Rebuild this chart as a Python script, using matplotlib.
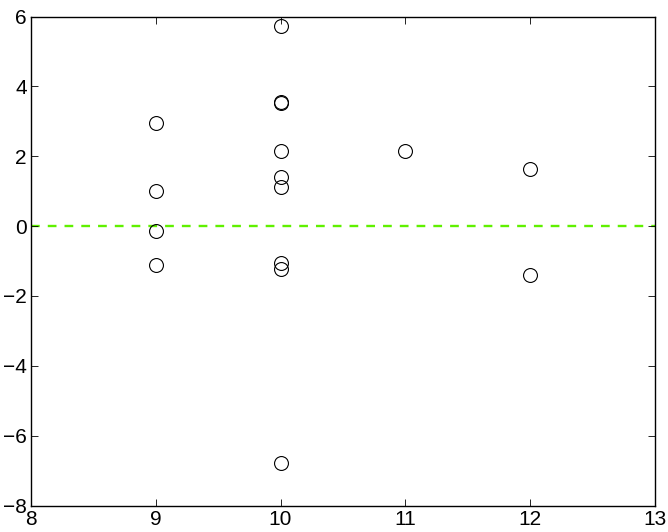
import matplotlib
matplotlib.use("Agg")
import matplotlib.pyplot as plt

plt.rcParams['font.family'] = ['Liberation Sans', 'DejaVu Sans']

# residuals grouped by x value
x_vals = [9, 9, 9, 9,
          10, 10, 10, 10, 10, 10, 10, 10, 10,
          11,
          12, 12]
y_vals = [2.96, 1.02, -0.13, -1.12,
          5.73, 3.56, 3.54, 2.15, 1.41, 1.11, -1.05, -1.24, -6.78,
          2.16,
          1.63, -1.40]

xticks = [8, 9, 10, 11, 12, 13]
yticks = [-8, -6, -4, -2, 0, 2, 4, 6]

fig = plt.figure(figsize=(6.68, 5.32), dpi=100)
ax = fig.add_axes([0.0464, 0.0498, 0.934, 0.919])

ax.axhline(0, color='#60f000', linestyle=(0, (3.7, 3.4)), linewidth=1.7, zorder=1)
ax.plot(x_vals, y_vals, 'o', markerfacecolor='none', markeredgecolor='black',
        markersize=10, markeredgewidth=0.8, linestyle='none', zorder=2)

ax.set_xlim(8, 13)
ax.set_ylim(-8, 6)
ax.set_xticks(xticks)
ax.set_yticks(yticks)
ax.set_yticklabels([str(v).replace('-', '\u2212') for v in yticks])
ax.tick_params(direction='in', length=5, width=0.6, top=True, right=True,
               labelsize=15)
ax.tick_params(axis='x', pad=3)
ax.tick_params(axis='y', pad=3)
for s in ax.spines.values():
    s.set_linewidth(1.0)

fig.savefig('out.png', dpi=100)
